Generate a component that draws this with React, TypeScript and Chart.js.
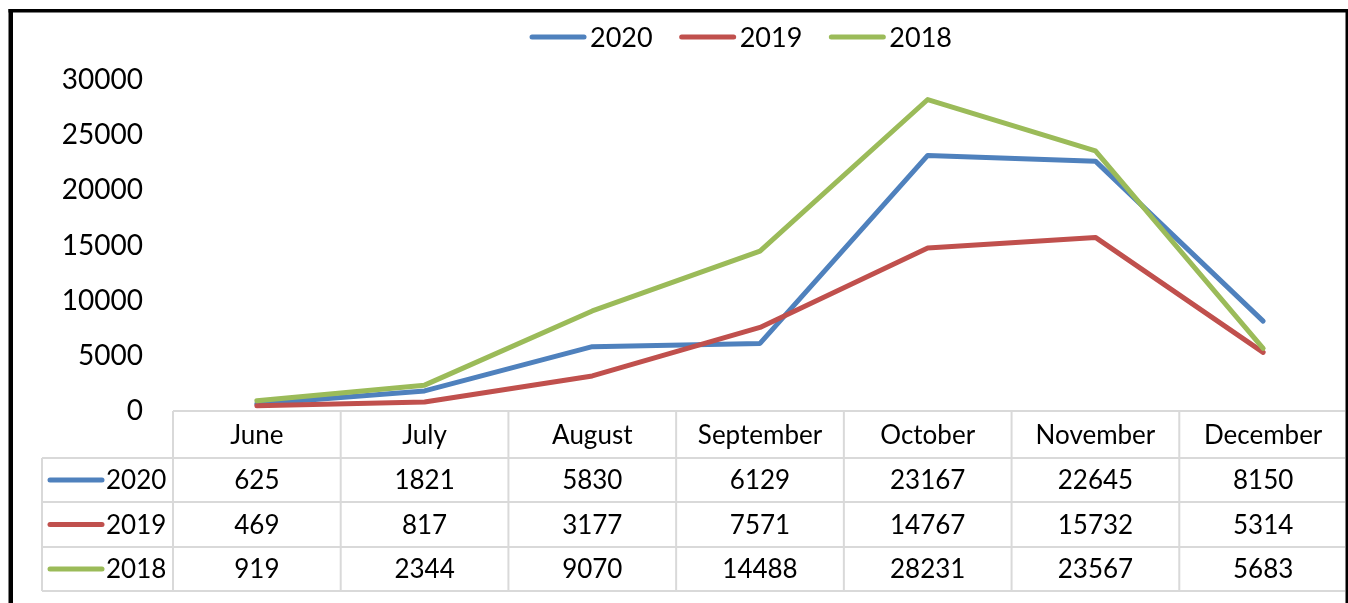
import React, { useEffect, useRef } from "react";
import { Chart, registerables } from "chart.js";

Chart.register(...registerables);

const categories = ["June", "July", "August", "September", "October", "November", "December"];
const series2020 = [625, 1821, 5830, 6129, 23167, 22645, 8150];
const series2019 = [469, 817, 3177, 7571, 14767, 15732, 5314];
const series2018 = [919, 2344, 9070, 14488, 28231, 23567, 5683];
const seriesLabels = ["2020", "2019", "2018"];
const seriesColors = ["#4F81BD", "#C0504D", "#9BBB59"];
const yMin = 0;
const yMax = 30000;
const yStep = 5000;

const FONT = "Lato";

const framePlugin = {
  id: "excelFrameTable",
  afterDraw(chart: any) {
    const ctx = chart.ctx as CanvasRenderingContext2D;
    const area = chart.chartArea;
    const xs = chart.scales.x;
    const n = categories.length;
    const colW = (area.right - area.left) / n;
    const tableRight = area.right - 2;
    const labelLeft = 42;
    const rowYs = [area.bottom, area.bottom + 47, area.bottom + 91, area.bottom + 136, area.bottom + 180];
    const allSeries = [series2020, series2019, series2018];

    ctx.save();
    ctx.strokeStyle = "#d9d9d9";
    ctx.lineWidth = 2;
    ctx.beginPath();
    ctx.moveTo(area.left, rowYs[0]);
    ctx.lineTo(tableRight, rowYs[0]);
    for (let r = 1; r < rowYs.length; r++) {
      ctx.moveTo(labelLeft, rowYs[r]);
      ctx.lineTo(tableRight, rowYs[r]);
    }
    for (let c = 0; c < n; c++) {
      const bx = xs.getPixelForValue(c) - colW / 2;
      ctx.moveTo(bx, rowYs[0]);
      ctx.lineTo(bx, rowYs[4]);
    }
    ctx.moveTo(labelLeft, rowYs[1]);
    ctx.lineTo(labelLeft, rowYs[4]);
    ctx.stroke();

    ctx.fillStyle = "#000";
    ctx.font = `26px ${FONT}`;
    ctx.textAlign = "center";
    ctx.textBaseline = "middle";
    categories.forEach((c, i) => {
      ctx.fillText(c, xs.getPixelForValue(i), (rowYs[0] + rowYs[1]) / 2 + 1);
    });
    allSeries.forEach((vals, s) => {
      const cy = (rowYs[s + 1] + rowYs[s + 2]) / 2 + 1;
      vals.forEach((v, i) => {
        ctx.fillText(String(v), xs.getPixelForValue(i), cy);
      });
      ctx.strokeStyle = seriesColors[s];
      ctx.lineWidth = 5;
      ctx.lineCap = "round";
      ctx.beginPath();
      ctx.moveTo(50, cy - 1);
      ctx.lineTo(102, cy - 1);
      ctx.stroke();
      ctx.textAlign = "left";
      ctx.fillText(seriesLabels[s], 106, cy);
      ctx.textAlign = "center";
    });

    ctx.font = `27px ${FONT}`;
    const lineLen = 54;
    const gapLT = 6;
    const gapItems = 27;
    const widths = seriesLabels.map((l) => ctx.measureText(l).width);
    const total = widths.reduce((a, w) => a + lineLen + gapLT + w, 0) + gapItems * (seriesLabels.length - 1);
    let lx = 741 - total / 2;
    const ly = 37;
    ctx.textAlign = "left";
    seriesLabels.forEach((l, s) => {
      ctx.strokeStyle = seriesColors[s];
      ctx.lineWidth = 5;
      ctx.lineCap = "round";
      ctx.beginPath();
      ctx.moveTo(lx + 2, ly);
      ctx.lineTo(lx + lineLen, ly);
      ctx.stroke();
      ctx.fillStyle = "#000";
      ctx.fillText(l, lx + lineLen + gapLT, ly + 1);
      lx += lineLen + gapLT + widths[s] + gapItems;
    });

    ctx.fillStyle = "#000";
    ctx.fillRect(8.5, 9, 4.5, 594);
    ctx.fillRect(8.5, 9, 1339.5, 3.5);
    ctx.fillRect(1345.5, 9, 2.5, 594);
    ctx.restore();
  },
};

export default function App() {
  const canvasRef = useRef<HTMLCanvasElement | null>(null);

  useEffect(() => {
    const canvas = canvasRef.current;
    if (!canvas) return;
    const chart = new Chart(canvas, {
      type: "line",
      data: {
        labels: categories,
        datasets: [
          { label: seriesLabels[0], data: series2020, borderColor: seriesColors[0], backgroundColor: seriesColors[0], order: 3 },
          { label: seriesLabels[1], data: series2019, borderColor: seriesColors[1], backgroundColor: seriesColors[1], order: 2 },
          { label: seriesLabels[2], data: series2018, borderColor: seriesColors[2], backgroundColor: seriesColors[2], order: 1 },
        ],
      },
      options: {
        responsive: false,
        animation: false,
        devicePixelRatio: 1,
        layout: { padding: { top: 80, bottom: 192, left: 0, right: 1 } },
        elements: {
          line: { borderWidth: 5, tension: 0, borderCapStyle: "round", borderJoinStyle: "round" },
          point: { radius: 0, hoverRadius: 0 },
        },
        plugins: {
          legend: { display: false },
          tooltip: { enabled: false },
          title: { display: false },
        },
        scales: {
          x: {
            type: "category",
            display: false,
            offset: true,
          },
          y: {
            min: yMin,
            max: yMax,
            grid: { display: false, drawTicks: false },
            border: { display: false },
            ticks: {
              stepSize: yStep,
              padding: 30,
              color: "#000",
              font: { family: FONT, size: 28 },
              callback: (v: any) => String(v),
            },
            afterFit(scale: any) {
              scale.width = 173;
            },
          },
        },
      },
      plugins: [framePlugin],
    });
    return () => chart.destroy();
  }, []);

  return (
    <div style={{ position: "fixed", left: 0, top: 0, width: 1348, height: 603, background: "#fff" }}>
      <canvas ref={canvasRef} width={1348} height={603} style={{ display: "block" }} />
    </div>
  );
}
